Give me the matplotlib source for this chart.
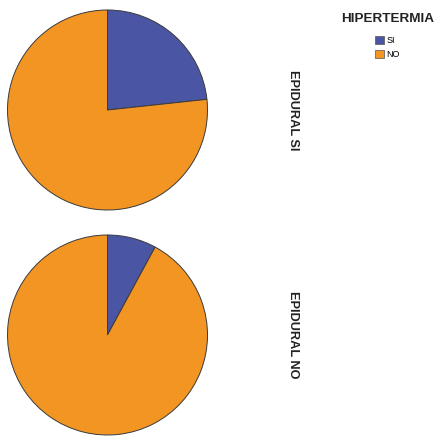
import matplotlib
matplotlib.use("Agg")
import matplotlib.pyplot as plt
from matplotlib.patches import Patch

plt.rcParams['font.family'] = ['Liberation Sans', 'DejaVu Sans']

categories = ["SI", "NO"]
epidural_si = [23.3, 76.7]
epidural_no = [7.9, 92.1]
panel_labels = ["EPIDURAL SI", "EPIDURAL NO"]
legend_title = "HIPERTERMIA"
colors = ["#4A55A4", "#F39523"]

W, H = 438, 437
fig = plt.figure(figsize=(W / 100, H / 100), dpi=100)

def add_pie(cx, cy, r, values, label):
    ax = fig.add_axes([(cx - r) / W, (H - cy - r) / H, 2 * r / W, 2 * r / H])
    ax.pie(values, colors=colors, startangle=90, counterclock=False,
           radius=1, wedgeprops=dict(edgecolor="#3a3a3a", linewidth=0.7))
    ax.set_xlim(-1.02, 1.02)
    ax.set_ylim(-1.02, 1.02)
    ax.set_aspect('auto')
    ax.axis('off')
    fig.text(293 / W, 1 - cy / H, label, rotation=-90, ha='center', va='center',
             fontsize=9.2, fontweight='bold', color='#222222')

add_pie(107.5, 110, 102, epidural_si, panel_labels[0])
add_pie(107.5, 335, 102, epidural_no, panel_labels[1])

fig.text(388 / W, 1 - 19 / H, legend_title, ha='center', va='center',
         fontsize=9.7, fontweight='bold', color='#222222')
handles = [Patch(facecolor=c, edgecolor='#555555', linewidth=0.5) for c in colors]
fig.legend(handles, categories, loc='upper left', bbox_to_anchor=(375 / W, 1 - 36 / H),
           frameon=False, fontsize=6.5, handlelength=0.95, handleheight=0.95,
           handletextpad=0.3, labelspacing=0.6, borderpad=0, borderaxespad=0)

fig.savefig("out.png", dpi=100, facecolor='white')
